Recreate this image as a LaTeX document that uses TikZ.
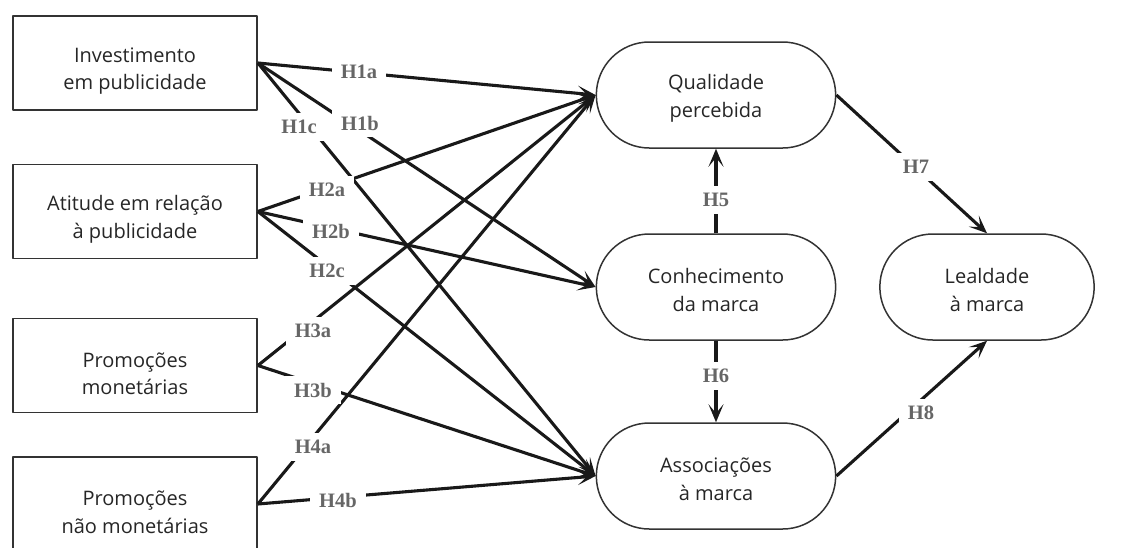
\documentclass[tikz,border=0pt]{standalone}
\usepackage{fontspec}
\usepackage{tikz}
\usetikzlibrary{arrows.meta,shapes.misc}
\newfontfamily\boxfont{Open Sans}
\newfontfamily\hypfont{Liberation Serif}
\newcommand{\sobe}[1]{\rule{0pt}{#1}}

\begin{document}
\begin{tikzpicture}[x=1pt,y=-1pt,line join=round]
\tikzstyle{fator}=[draw=black!80,line width=1.8pt,minimum width=244pt,minimum height=94pt,align=center,font=\boxfont\fontsize{20}{27.5}\selectfont,text=black!85]
\tikzstyle{marca}=[rounded rectangle,draw=black!80,line width=1.5pt,minimum width=246pt,minimum height=106pt,align=center,font=\boxfont\fontsize{20}{28}\selectfont,text=black!85]
\tikzstyle{hip}=[fill=white,inner xsep=9pt,inner ysep=7pt,font=\hypfont\bfseries\fontsize{20.5}{20}\selectfont,text=black!60]
\tikzstyle{seta}=[line width=3.1pt,draw=black!90,-{Stealth[length=18pt,width=15pt,inset=9pt]}]
\useasboundingbox (0,0) rectangle (1122,547);
\clip (0,0) rectangle (1122,547);
\node[fator] (invest) at (135,63) {\sobe{31pt}Investimento\\em publicidade};
\node[fator] (atitude) at (135,211.5) {\sobe{31pt}Atitude em relação\\à publicidade};
\node[fator] (monet) at (135,365.5) {\sobe{31pt}Promoções\\monetárias};
\node[fator] (naomonet) at (135,504) {\sobe{31pt}Promoções\\não monetárias};
\node[marca] (qualid) at (716,95) {\sobe{21pt}Qualidade\\percebida};
\node[marca] (conhec) at (716,287) {\sobe{21pt}Conhecimento\\da marca};
\node[marca] (assoc) at (716,476) {\sobe{21pt}Associações\\à marca};
\node[marca,minimum width=221pt] (lealdade) at (987,287) {\sobe{21pt}Lealdade\\à marca};
\draw[seta] (invest.east) -- (qualid.west);
\draw[seta] (invest.east) -- (conhec.west);
\draw[seta] (invest.east) -- (assoc.west);
\draw[seta] (atitude.east) -- (qualid.west);
\draw[seta] (atitude.east) -- (conhec.west);
\draw[seta] (atitude.east) -- (assoc.west);
\draw[seta] (monet.east) -- (qualid.west);
\draw[seta] (monet.east) -- (assoc.west);
\draw[seta] (naomonet.east) -- (qualid.west);
\draw[seta] (naomonet.east) -- (assoc.west);
\draw[seta] (conhec.north) -- (qualid.south);
\draw[seta] (conhec.south) -- (assoc.north);
\draw[seta] (qualid.east) -- (lealdade.north);
\draw[seta] (assoc.east) -- (lealdade.south);
\node[hip] (h1a) at (359,72) {H1a};
\node[hip] (h1b) at (360,123) {H1b};
\node[hip] (h1c) at (299,127) {H1c};
\node[hip] (h2a) at (327,190) {H2a};
\node[hip] (h2b) at (331,231) {H2b};
\node[hip] (h2c) at (327,271) {H2c};
\node[hip] (h3a) at (313,331) {H3a};
\node[hip] (h3b) at (313,390) {H3b};
\node[hip] (h4a) at (313,447) {H4a};
\node[hip] (h4b) at (338,500) {H4b};
\node[hip] (h5) at (716,200) {H5};
\node[hip] (h6) at (716,376) {H6};
\node[hip] (h7) at (916,167) {H7};
\node[hip] (h8) at (921,413) {H8};
\end{tikzpicture}
\end{document}
